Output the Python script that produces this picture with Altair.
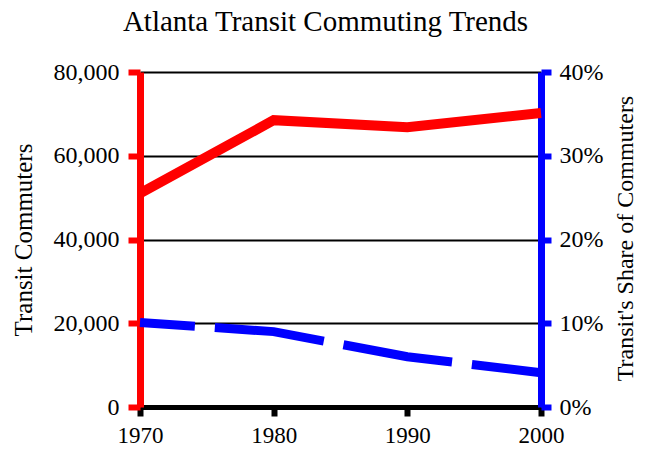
import altair as alt
import pandas as pd

years = [1970, 1980, 1990, 2000]
commuters = [51000, 68500, 66800, 70200]
share = [0.101, 0.09, 0.06, 0.041]

df = pd.DataFrame({"year": years, "commuters": commuters, "share": share})

FONT = "Liberation Serif"

x = alt.X("year:Q", scale=alt.Scale(domain=[1970, 2000], nice=False, zero=False),
          axis=alt.Axis(values=years, format="d", title=None, grid=False,
                        domainColor="black", domainWidth=5, tickColor="black",
                        tickWidth=6, tickSize=9, labelPadding=8, labelFlush=False,
                        labelFont=FONT, labelFontSize=23, labelColor="black"))

red = alt.Chart(df).mark_line(color="#ff0000", strokeWidth=10, strokeCap="butt").encode(
    x=x,
    y=alt.Y("commuters:Q", scale=alt.Scale(domain=[0, 80000], nice=False),
            axis=alt.Axis(values=[0, 20000, 40000, 60000, 80000], format=",d",
                          title="Transit Commuters", titleFont=FONT, titleFontSize=25,
                          titleFontWeight="normal", titleColor="black", titlePadding=17,
                          domainColor="#ff0000", domainWidth=7, tickColor="#ff0000",
                          tickWidth=6, tickSize=12, labelPadding=9,
                          labelFont=FONT, labelFontSize=24, labelColor="black",
                          grid=True, gridColor="black", gridWidth=2, gridOpacity=1))
)

blue = alt.Chart(df).mark_line(color="#0000ff", strokeWidth=9, strokeCap="butt",
                               strokeDash=[110, 20], strokeDashOffset=55).encode(
    x=x,
    y=alt.Y("share:Q", scale=alt.Scale(domain=[0, 0.4], nice=False),
            axis=alt.Axis(values=[0, 0.1, 0.2, 0.3, 0.4], format=".0%", orient="right",
                          title="Transit's Share of Commuters", titleFont=FONT,
                          titleFontSize=24, titleFontWeight="normal", titleColor="black",
                          titleAngle=270, titleX=84, titleY=166,
                          titleAlign="center", titleBaseline="middle",
                          domainColor="#0000ff", domainWidth=7, tickColor="#0000ff",
                          tickWidth=6, tickSize=10, labelPadding=8,
                          labelFont=FONT, labelFontSize=24, labelColor="black",
                          grid=False))
)

chart = alt.layer(red, blue).resolve_scale(y="independent").properties(
    width=401, height=335,
    title=alt.TitleParams("Atlanta Transit Commuting Trends", font=FONT, fontSize=29,
                          fontWeight="normal", color="black", offset=23, dx=-15),
    autosize=alt.AutoSizeParams(type="none"),
    padding={"left": 132, "top": 64, "right": 97, "bottom": 40},
).configure_view(stroke=None)

chart.save("out.html", embed_options={"renderer": "svg", "actions": False})
